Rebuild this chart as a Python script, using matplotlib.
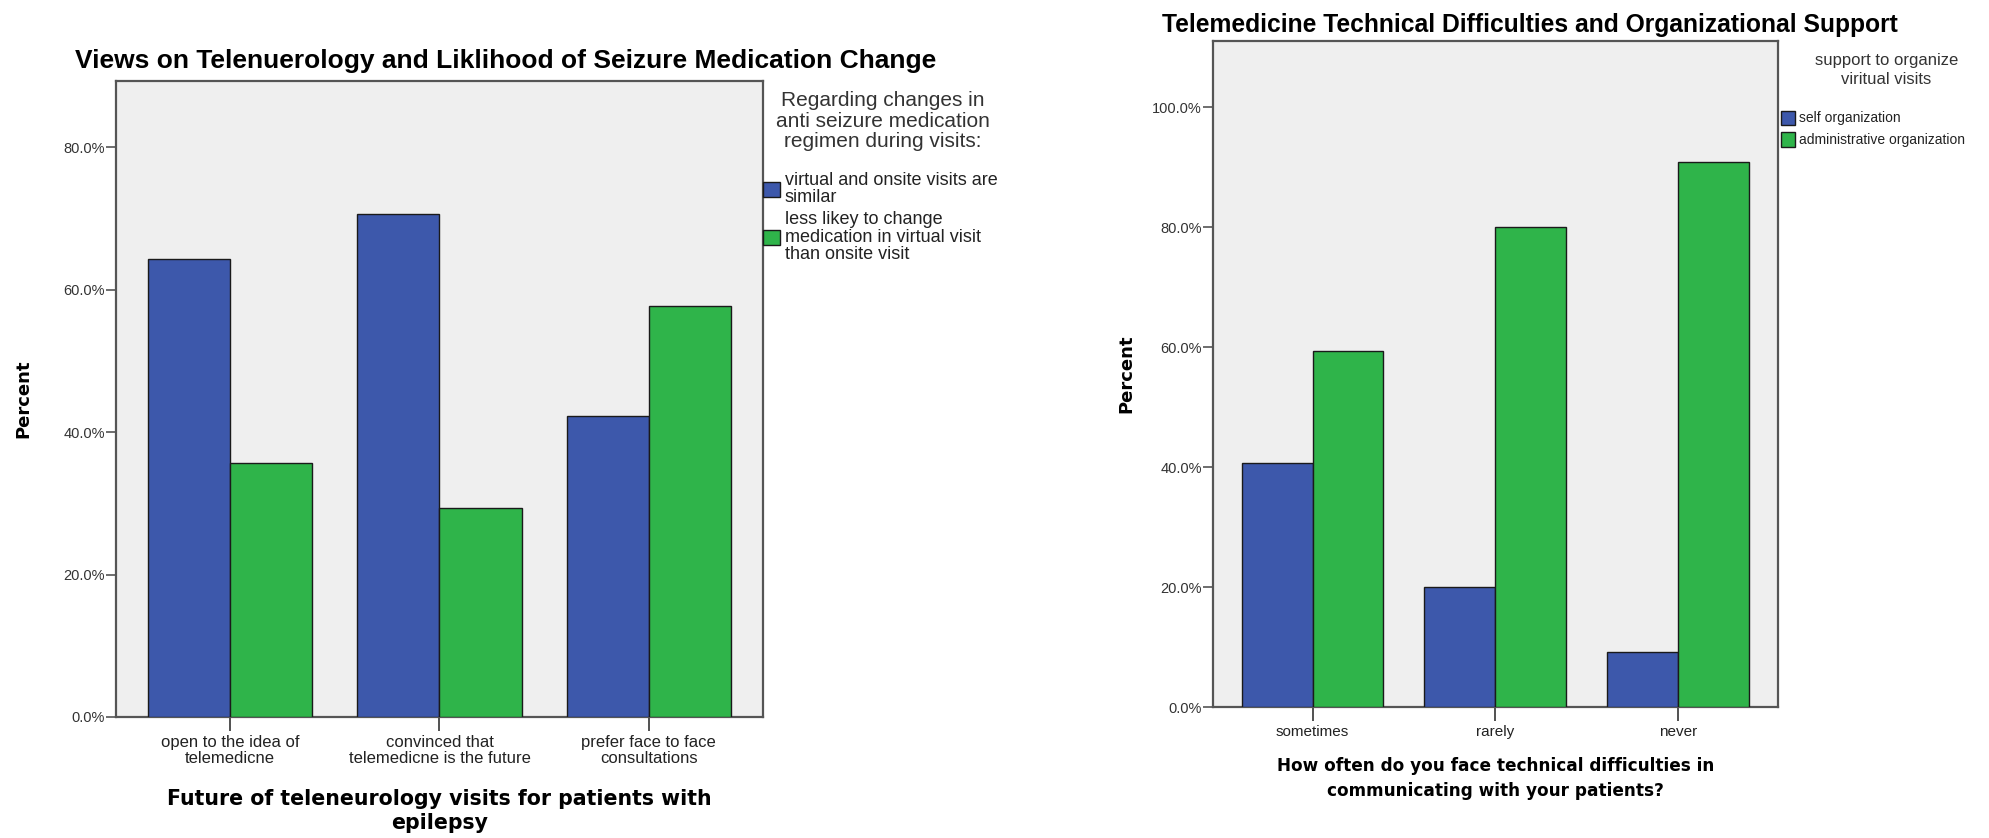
import matplotlib

matplotlib.use("Agg")
import matplotlib.pyplot as plt
import numpy as np

# ---- data (percent within each group) ----
views_categories = ["open to the idea of\ntelemedicne",
                    "convinced that\ntelemedicne is the future",
                    "prefer face to face\nconsultations"]
views_similar = [64.3, 70.6, 42.3]
views_less_likely = [35.7, 29.4, 57.7]

difficulty_categories = ["sometimes", "rarely", "never"]
self_org = [40.7, 20.0, 9.1]
admin_org = [59.3, 80.0, 90.9]

BLUE = "#3d58ab"
GREEN = "#2fb44a"
BG = "#efefef"
ARIAL = ["Liberation Sans", "DejaVu Sans"]


def style_axes(ax, ymax, yticks):
    ax.set_facecolor(BG)
    for s in ax.spines.values():
        s.set_color("#555555")
        s.set_linewidth(1.6)
    ax.set_ylim(0, ymax)
    ax.set_xlim(-0.545, 2.545)
    ax.set_yticks(yticks)
    ax.set_yticklabels([f"{t:.1f}%" for t in yticks], family=ARIAL,
                       fontsize=10.5, color="#333333")
    ax.tick_params(axis="y", length=7, width=1.2, color="#555555", pad=1)
    ax.tick_params(axis="x", length=10, width=1.2, color="#333333", pad=3)


def legend_box(ax, x, y, size, handlelength, handleheight,
               labelspacing, linespacing):
    leg = ax.legend(loc="upper left", bbox_to_anchor=(x, y),
                    bbox_transform=fig.transFigure, frameon=False,
                    prop={"family": ARIAL, "size": size},
                    handlelength=handlelength, handleheight=handleheight,
                    handletextpad=0.28, borderaxespad=0, borderpad=0,
                    labelspacing=labelspacing)
    for t in leg.get_texts():
        t.set_linespacing(linespacing)
        t.set_color("#222222")
    for h in leg.legend_handles:
        h.set_edgecolor("#1a1a1a")
    return leg


fig = plt.figure(figsize=(19.9, 8.38), dpi=100)

# ---------- left chart ----------
ax1 = fig.add_axes([0.0583, 0.1444, 0.3251, 0.759])
x = np.arange(len(views_categories))
w = 0.392
ax1.bar(x - w / 2, views_similar, width=w, color=BLUE, edgecolor="#1a1a1a",
        linewidth=1.0, label="virtual and onsite visits are\nsimilar", zorder=3)
ax1.bar(x + w / 2, views_less_likely, width=w, color=GREEN, edgecolor="#1a1a1a",
        linewidth=1.0,
        label="less likey to change\nmedication in virtual visit\nthan onsite visit",
        zorder=3)
style_axes(ax1, 89.3, [0, 20, 40, 60, 80])
ax1.set_xticks(x)
ax1.set_xticklabels(views_categories, family=ARIAL, fontsize=12,
                    color="#222222", linespacing=1.05)
ax1.set_ylabel("Percent", fontsize=13, fontweight="bold", labelpad=22)
ax1.set_xlabel("Future of teleneurology visits for patients with\nepilepsy",
               fontsize=14.8, fontweight="bold", linespacing=1.25, labelpad=17)
fig.text(0.254, 0.919, "Views on Telenuerology and Liklihood of Seizure Medication Change",
         ha="center", va="baseline", fontsize=19, fontweight="bold", family=ARIAL)
fig.text(0.4435, 0.8556, "Regarding changes in\nanti seizure medication\nregimen during visits:",
         ha="center", va="center", multialignment="center", fontsize=15,
         family=ARIAL, color="#333333", linespacing=1.07)
legend_box(ax1, 0.3834, 0.795, 13, 0.94, 0.95, 0.25, 1.05)

# ---------- right chart ----------
ax2 = fig.add_axes([0.6095, 0.1563, 0.2839, 0.7947])
x = np.arange(len(difficulty_categories))
w = 0.388
ax2.bar(x - w / 2, self_org, width=w, color=BLUE, edgecolor="#1a1a1a",
        linewidth=1.0, label="self organization", zorder=3)
ax2.bar(x + w / 2, admin_org, width=w, color=GREEN, edgecolor="#1a1a1a",
        linewidth=1.0, label="administrative organization", zorder=3)
style_axes(ax2, 111.0, [0, 20, 40, 60, 80, 100])
ax2.set_xticks(x)
ax2.set_xticklabels(difficulty_categories, family=ARIAL, fontsize=11,
                    color="#222222")
ax2.set_ylabel("Percent", fontsize=13, fontweight="bold", labelpad=12)
ax2.set_xlabel("How often do you face technical difficulties in\n"
               "communicating with your patients?",
               fontsize=12.2, fontweight="bold", linespacing=1.5, labelpad=13)
fig.text(0.769, 0.962, "Telemedicine Technical Difficulties and Organizational Support",
         ha="center", va="baseline", fontsize=17.7, fontweight="bold", family=ARIAL)
fig.text(0.948, 0.916, "support to organize\nviritual visits",
         ha="center", va="center", multialignment="center", fontsize=12,
         family=ARIAL, color="#333333", linespacing=1.35)
legend_box(ax2, 0.895, 0.868, 10, 1.0, 1.2, 0.5, 1.0)

fig.savefig("out.png", dpi=100)
